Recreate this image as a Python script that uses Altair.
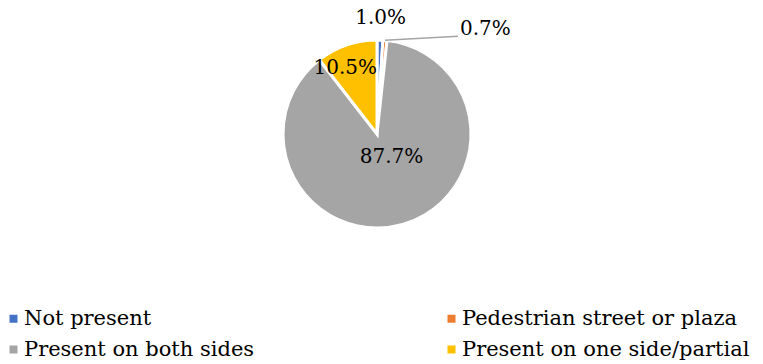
import altair as alt
import pandas as pd

categories = ["Not present", "Pedestrian street or plaza", "Present on both sides", "Present on one side/partial"]
values = [1.0, 0.7, 87.7, 10.5]
labels = ["1.0%", "0.7%", "87.7%", "10.5%"]
colors = ["#4472C4", "#ED7D31", "#A5A5A5", "#FFC000"]
legend_order = ["Not present", "Present on both sides", "Pedestrian street or plaza", "Present on one side/partial"]

df = pd.DataFrame({"category": categories, "value": values, "label": labels, "idx": list(range(len(categories)))})

W, H = 754, 268
CX, CY = W / 2, H / 2
R = 94
FONT = "DejaVu Serif"

base = alt.Chart(df)

color_map = dict(zip(categories, colors))
color = alt.Color(
    "category:N",
    scale=alt.Scale(domain=legend_order, range=[color_map[c] for c in legend_order]),
    legend=alt.Legend(
        title=None, orient="none", legendX=3, legendY=308, columns=2, columnPadding=186,
        symbolType="square", symbolSize=64, symbolStrokeWidth=0, labelFont=FONT,
        labelFontSize=21, labelColor="#000000", rowPadding=9, labelOffset=0, labelLimit=400,
    ),
)

arcs = base.mark_arc(outerRadius=R, stroke="white", strokeWidth=3).encode(
    theta=alt.Theta("value:Q", stack=True),
    color=color,
    order=alt.Order("idx:Q"),
)

angles = base.transform_joinaggregate(total="sum(value)").transform_window(
    cum="sum(value)", sort=[alt.SortField("idx")]
).transform_calculate(
    mid="(datum.cum - datum.value / 2) / datum.total * 2 * PI"
)

def label_layer(cat, radius, dx=0, dy=0):
    return angles.transform_filter(alt.datum.category == cat).mark_text(
        radius=radius, dx=dx, dy=dy, font=FONT, fontSize=20, color="black"
    ).encode(theta=alt.Theta("mid:Q", scale=None), text="label:N")

lab_not = label_layer("Not present", 116, dx=0)
lab_one = label_layer("Present on one side/partial", 70, dx=-9)
lab_both = label_layer("Present on both sides", 24, dx=8)

leader = angles.transform_filter(alt.datum.category == "Pedestrian street or plaza").transform_calculate(
    x1=f"{CX} + {R} * sin(datum.mid)", y1=f"{CY} - {R} * cos(datum.mid)"
).transform_calculate(
    x2="datum.x1 + 73", y2="datum.y1 - 4"
)
leader_line = leader.mark_rule(color="#A5A5A5", strokeWidth=1.5).encode(
    x=alt.X("x1:Q", scale=None), y=alt.Y("y1:Q", scale=None),
    x2="x2:Q", y2="y2:Q",
)
leader_text = leader.mark_text(align="left", baseline="middle", dx=2, dy=-7, font=FONT, fontSize=20, color="black").encode(
    x=alt.X("x2:Q", scale=None), y=alt.Y("y2:Q", scale=None), text="label:N"
)

chart = alt.layer(arcs, leader_line, leader_text, lab_not, lab_one, lab_both).properties(
    width=W, height=H,
    background="white",
    autosize=alt.AutoSizeParams(type="none"),
    padding={"left": 0, "top": 0, "right": 763 - W, "bottom": 364 - H},
).configure_view(strokeWidth=0, stroke=None)

chart.save("out.html", embed_options={"renderer": "svg", "actions": False})
